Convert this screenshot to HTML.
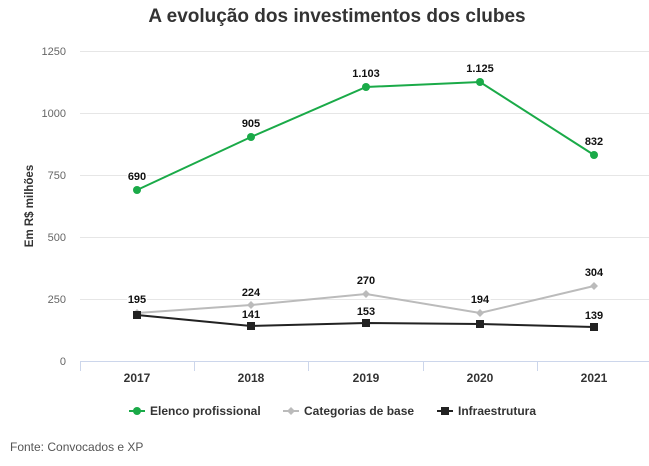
<!DOCTYPE html>
<html><head><meta charset="utf-8"><style>
body{margin:0;background:#fff;width:649px;height:461px;overflow:hidden;font-family:"Liberation Sans",sans-serif}
</style></head><body>
<svg width="649" height="461" xmlns="http://www.w3.org/2000/svg" font-family="Liberation Sans, sans-serif">
<text x="337" y="22" text-anchor="middle" font-size="19" font-weight="bold" fill="#333">A evolução dos investimentos dos clubes</text>
<g stroke="#e6e6e6" stroke-width="1">
<line x1="80" x2="650" y1="51.5" y2="51.5"/>
<line x1="80" x2="650" y1="113.5" y2="113.5"/>
<line x1="80" x2="650" y1="175.5" y2="175.5"/>
<line x1="80" x2="650" y1="237.5" y2="237.5"/>
<line x1="80" x2="650" y1="299.5" y2="299.5"/>
</g>
<line x1="80" x2="650" y1="361.5" y2="361.5" stroke="#ccd6eb"/>
<g stroke="#ccd6eb"><line x1="194.5" x2="194.5" y1="361" y2="371"/><line x1="308.5" x2="308.5" y1="361" y2="371"/><line x1="423.5" x2="423.5" y1="361" y2="371"/><line x1="537.5" x2="537.5" y1="361" y2="371"/><line x1="80.5" x2="80.5" y1="361" y2="371"/></g>
<g font-size="11" fill="#666" text-anchor="end">
<text x="66" y="55">1250</text><text x="66" y="117">1000</text><text x="66" y="179">750</text><text x="66" y="241">500</text><text x="66" y="303">250</text><text x="66" y="365">0</text>
</g>
<text transform="translate(33,206) rotate(-90)" text-anchor="middle" font-size="11.5" font-weight="bold" fill="#333">Em R$ milhões</text>
<g font-size="12" font-weight="bold" fill="#333" text-anchor="middle">
<text x="137" y="382">2017</text><text x="251" y="382">2018</text><text x="366" y="382">2019</text><text x="480" y="382">2020</text><text x="594" y="382">2021</text>
</g>
<polyline points="137,190 251,137 366,87 480,82 594,155" fill="none" stroke="#1aaa48" stroke-width="2"/>
<g fill="#1aaa48"><circle cx="137" cy="190" r="4"/><circle cx="251" cy="137" r="4"/><circle cx="366" cy="87" r="4"/><circle cx="480" cy="82" r="4"/><circle cx="594" cy="155" r="4"/></g>
<polyline points="137,313 251,305 366,294 480,313 594,286" fill="none" stroke="#bbb" stroke-width="2"/>
<g fill="#bbb"><path d="M137 309l4 4-4 4-4-4z"/><path d="M251 301l4 4-4 4-4-4z"/><path d="M366 290l4 4-4 4-4-4z"/><path d="M480 309l4 4-4 4-4-4z"/><path d="M594 282l4 4-4 4-4-4z"/></g>
<polyline points="137,315 251,326 366,323 480,324 594,327" fill="none" stroke="#222" stroke-width="2"/>
<g fill="#222"><rect x="133" y="311" width="8" height="8"/><rect x="247" y="322" width="8" height="8"/><rect x="362" y="319" width="8" height="8"/><rect x="476" y="320" width="8" height="8"/><rect x="590" y="323" width="8" height="8"/></g>
<g font-size="11" font-weight="bold" fill="#111" text-anchor="middle" stroke="#fff" stroke-width="3" paint-order="stroke">
<text x="137" y="180">690</text><text x="251" y="127">905</text><text x="366" y="77">1.103</text><text x="480" y="72">1.125</text><text x="594" y="145">832</text>
<text x="137" y="303">195</text><text x="251" y="296">224</text><text x="366" y="284">270</text><text x="480" y="303">194</text><text x="594" y="276">304</text>
<text x="251" y="318">141</text><text x="366" y="315">153</text><text x="594" y="319">139</text>
</g>
<g font-size="12" font-weight="bold" fill="#333">
<line x1="129" x2="145" y1="411" y2="411" stroke="#1aaa48" stroke-width="2"/><circle cx="137" cy="411" r="4" fill="#1aaa48"/>
<text x="150" y="415">Elenco profissional</text>
<line x1="283" x2="299" y1="411" y2="411" stroke="#bbb" stroke-width="2"/><path d="M291 407l4 4-4 4-4-4z" fill="#bbb"/>
<text x="304" y="415">Categorias de base</text>
<line x1="437" x2="453" y1="411" y2="411" stroke="#222" stroke-width="2"/><rect x="441" y="407" width="8" height="8" fill="#222"/>
<text x="458" y="415">Infraestrutura</text>
</g>
<text x="10" y="451" font-size="12" fill="#555">Fonte: Convocados e XP</text>
</svg>
</body></html>
